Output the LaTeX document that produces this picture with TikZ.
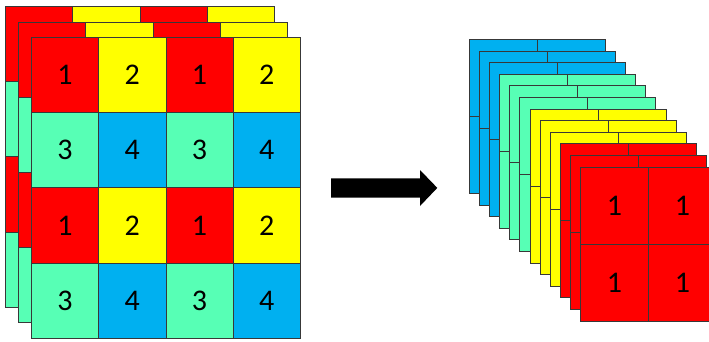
\documentclass[tikz,border=0pt]{standalone}
\usepackage{fontspec}
\setmainfont{Carlito}

\definecolor{cred}{HTML}{FF0000}
\definecolor{cyel}{HTML}{FFFF00}
\definecolor{cturq}{HTML}{57FFB5}
\definecolor{cblue}{HTML}{00B0F0}
\definecolor{edge}{HTML}{383838}

\tikzset{
  gridcell/.style={draw=edge, line width=0.8pt, rectangle, inner sep=0pt,
    anchor=north west, font=\fontsize{30}{36}\selectfont, text=black},
  leftcell/.style={gridcell, minimum width=67.25pt, minimum height=75.2pt},
  rightcell/.style={gridcell, minimum width=68pt, minimum height=77pt},
}

\begin{document}
\begin{tikzpicture}[x=1pt, y=-1pt]
  \useasboundingbox (0,0) rectangle (709,341);
  \clip (0,0) rectangle (709,341);

  % Input feature map: three stacked 4x4 layers, numbers on the front one
  \foreach \k in {0,1,2} {
    \pgfmathsetmacro\ox{5+13*\k}
    \pgfmathsetmacro\oy{6+15.5*\k}
    \foreach \r/\ca/\cb/\na/\nb in {0/cred/cyel/1/2, 1/cturq/cblue/3/4,
                                    2/cred/cyel/1/2, 3/cturq/cblue/3/4} {
      \foreach \c/\col/\num in {0/\ca/\na, 1/\cb/\nb, 2/\ca/\na, 3/\cb/\nb} {
        \ifnum\k=2
          \node[leftcell, fill=\col] (in-\k-\r-\c)
            at (\ox+67.25*\c, \oy+75.2*\r) {\num};
        \else
          \node[leftcell, fill=\col] (in-\k-\r-\c)
            at (\ox+67.25*\c, \oy+75.2*\r) {};
        \fi
      }
    }
  }

  % Block arrow between the two stacks
  \fill[black] (331,178.3) -- (420,178.3) -- (420,170) -- (437.3,187.9)
    -- (420,206) -- (420,197.7) -- (331,197.7) -- cycle;

  % Output: twelve stacked 2x2 layers grouped by colour
  \foreach \k/\col in {0/cblue, 1/cblue, 2/cblue, 3/cturq, 4/cturq, 5/cturq,
                       6/cyel, 7/cyel, 8/cyel, 9/cred, 10/cred, 11/cred} {
    \pgfmathsetmacro\ox{469+10.09*\k}
    \pgfmathsetmacro\oy{39+11.6*\k}
    \foreach \r in {0,1} {
      \foreach \c in {0,1} {
        \ifnum\k=11
          \node[rightcell, fill=\col] (out-\k-\r-\c)
            at (\ox+68*\c, \oy+77*\r) {1};
        \else
          \node[rightcell, fill=\col] (out-\k-\r-\c)
            at (\ox+68*\c, \oy+77*\r) {};
        \fi
      }
    }
  }
\end{tikzpicture}
\end{document}
